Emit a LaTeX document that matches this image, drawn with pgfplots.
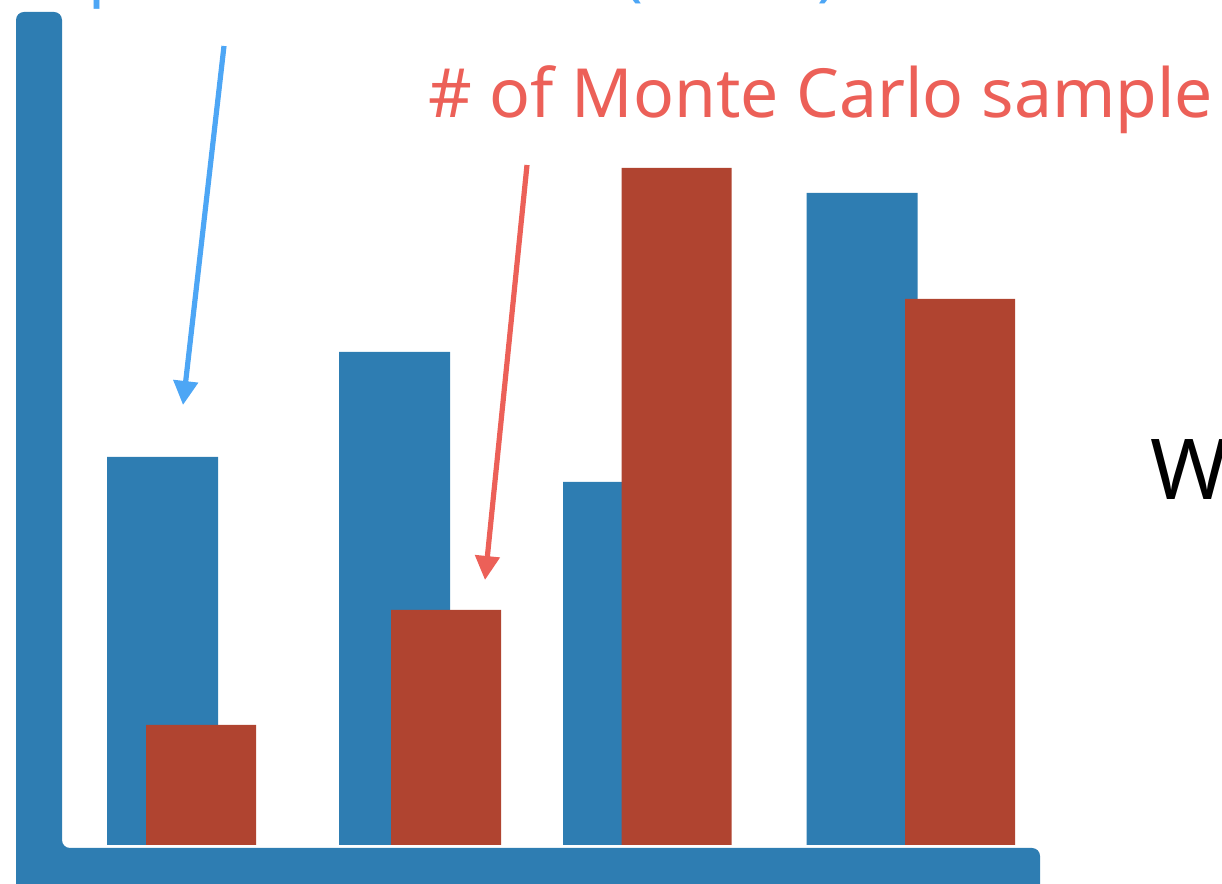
\documentclass[border=0pt]{standalone}
\usepackage{pgfplots}
\pgfplotsset{compat=1.18}
\usepackage{fontspec}
\setmainfont{Noto Sans}
\usetikzlibrary{arrows.meta}
\definecolor{barblue}{RGB}{46,125,178}
\definecolor{barred}{RGB}{176,68,48}
\definecolor{txtred}{RGB}{236,96,88}
\definecolor{arrblue}{RGB}{77,166,245}
\begin{document}
\begin{tikzpicture}
\begin{axis}[
  width=611pt, height=442pt, scale only axis,
  xmin=0, xmax=1222, ymin=-39, ymax=845,
  hide axis, clip=false,
]
% L-shaped axis frame
\addplot[draw=none, fill=barblue, rounded corners=4pt] coordinates {
  (16,-60) (16,833) (62,833) (62,-3) (1040,-3) (1040,-60)};
% blue series
\addplot[ybar, bar width=111, bar shift=0pt, fill=barblue, draw=none] coordinates {
  (162.5,388) (394.5,493) (618.5,363) (862,652)};
% red series
\addplot[ybar, bar width=110, bar shift=0pt, fill=barred, draw=none] coordinates {
  (201,120) (446,235) (676.5,677) (960,546)};
% arrows
\addplot[arrblue, line width=2.6pt, -{Triangle[length=12pt,width=12pt]}] coordinates {(224,799) (183,440)};
\addplot[txtred, line width=2.6pt, -{Triangle[length=12pt,width=12pt]}] coordinates {(527,680) (485,265)};
% texts
\node[anchor=base west, inner sep=0pt, text=txtred, font=\fontsize{33.9}{40}\selectfont] at (axis cs:428,727) {\# of Monte Carlo sample};
\node[anchor=base west, inner sep=0pt, text=arrblue, font=\fontsize{33}{40}\selectfont] at (axis cs:88,851) {parameters of W (width)};
\node[anchor=base west, inner sep=0pt, text=black, font=\fontsize{42}{50}\selectfont] at (axis cs:1150,345) {W};
\end{axis}
\pgfresetboundingbox
\useasboundingbox (current axis.south west) rectangle (current axis.north east);
\end{tikzpicture}
\end{document}
